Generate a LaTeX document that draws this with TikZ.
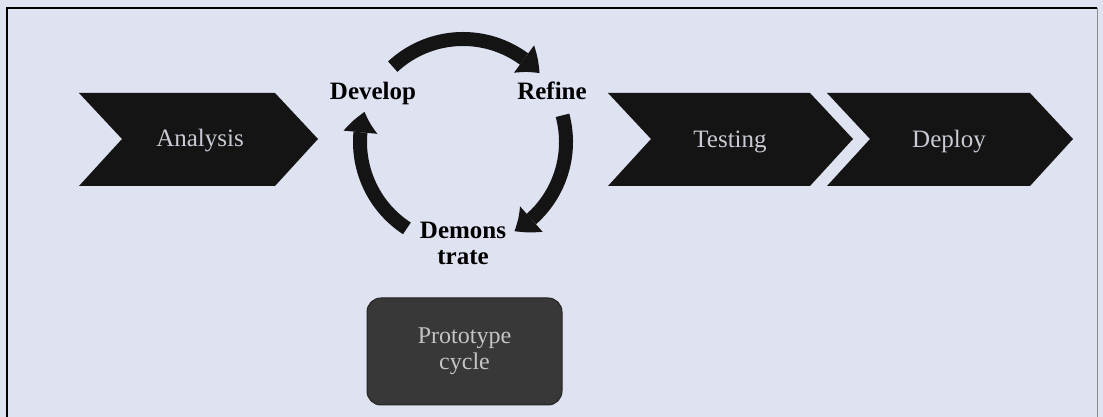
\documentclass[tikz,border=0pt]{standalone}
\usepackage{fontspec}
\setmainfont{Liberation Serif}
\usetikzlibrary{arrows.meta,bending}
\definecolor{bg}{RGB}{222,226,241}
\definecolor{chevfill}{RGB}{20,20,20}
\definecolor{chevtext}{RGB}{200,202,212}
\definecolor{protofill}{RGB}{56,56,56}
\definecolor{protoline}{RGB}{36,36,36}
\definecolor{prototext}{RGB}{196,196,196}
\begin{document}
\begin{tikzpicture}[x=1pt,y=1pt,
  chev/.style={fill=chevfill},
  chevlabel/.style={text=chevtext, font=\fontsize{25}{30}\selectfont, anchor=base, inner sep=0pt},
  cyclabel/.style={text=black, font=\bfseries\fontsize{25}{26}\selectfont, inner sep=0pt, align=center},
  cycarrow/.style={line width=14pt, draw=chevfill, -{Triangle[width=34pt,length=21pt,line width=0pt,bend]}},
  protobox/.style={fill=protofill, draw=protoline, line width=1pt, rounded corners=14pt,
    minimum width=195pt, minimum height=107pt, text=prototext,
    font=\fontsize{24}{26}\selectfont, align=center, inner sep=0pt}
]
\useasboundingbox (0,0) rectangle (1103,417);
\fill[bg] (0,0) rectangle (1103,417);
% frame
\draw[line width=1.6pt] (7,-10) -- (7,409) -- (1097,409);
\draw[line width=1pt, black!45] (1097,409) -- (1097,-10);

% chevrons
\fill[chev] (79,324) -- (275,324) -- (318,278) -- (275,231) -- (79,231) -- (122,278) -- cycle;
\fill[chev] (608,324) -- (810,324) -- (853,278) -- (810,231) -- (608,231) -- (651,278) -- cycle;
\fill[chev] (827,324) -- (1030,324) -- (1073,278) -- (1030,231) -- (827,231) -- (870,278) -- cycle;
\node[chevlabel] (analysis) at (200,270) {Analysis};
\node[chevlabel] (testing) at (730,269) {Testing};
\node[chevlabel] (deploy) at (949,269) {Deploy};

% cycle
\coordinate (cc) at (463,275);
\node[cyclabel, anchor=base] (develop) at (373,317) {Develop};
\node[cyclabel, anchor=base] (refine) at (552,317) {Refine};
\node[cyclabel] (demo) at (463,174) {Demons\\trate};
\draw[cycarrow] (cc) ++(133:103) arc[start angle=133, end angle=42, radius=103];
\draw[cycarrow] (cc) ++(15:103) arc[start angle=15, end angle=-60, radius=103];
\draw[cycarrow] (cc) ++(237:103) arc[start angle=237, end angle=163, radius=103];

% prototype box
\node[protobox] (proto) at (464.5,65.5) {Prototype\\cycle};
\end{tikzpicture}
\end{document}
